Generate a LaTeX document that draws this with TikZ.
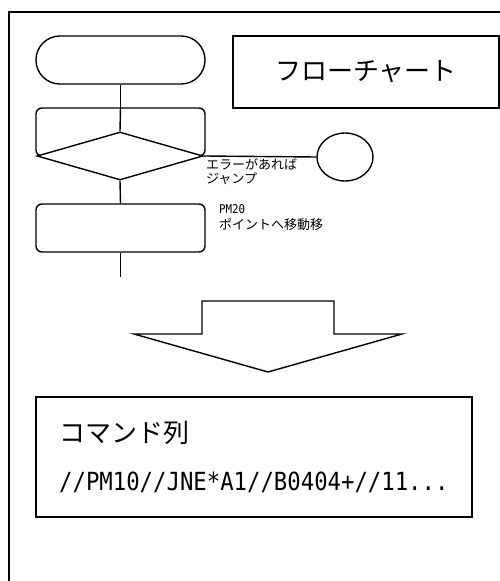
\documentclass[tikz,border=0pt]{standalone}
\usepackage{graphicx}
\usepackage{fontspec}
\setmainfont{Noto Sans CJK JP}
\newfontfamily\monofnt{DejaVu Sans Mono}
\usetikzlibrary{shapes.geometric}
\begin{document}
\begin{tikzpicture}[x=1pt,y=-1pt,
  shp/.style={draw=black,line width=1.4pt},
  termbox/.style={shp,minimum width=169pt,minimum height=48pt,rounded corners=23.9pt,inner sep=0pt},
  procbox/.style={shp,minimum width=169pt,minimum height=48pt,rounded corners=6pt,inner sep=0pt},
  decbox/.style={shp,diamond,fill=white,minimum width=166pt,minimum height=48pt,inner sep=0pt},
  conbox/.style={shp,ellipse,minimum width=56pt,minimum height=48pt,inner sep=0pt},
  framebox/.style={shp,rectangle,inner sep=0pt},
  conn/.style={line width=1.4pt},
  lbl/.style={inner sep=0pt,align=left,font=\fontsize{13}{14}\selectfont}
]
\useasboundingbox (0,0) rectangle (500,581);
\fill[white] (0,0) rectangle (500,581);
\begin{scope}
\clip (0,0) rectangle (500,581);
\draw[line width=2pt] (9,590) -- (9,12) -- (510,12);
\end{scope}

% flowchart
\node[termbox] (start) at (120.5,60) {};
\node[procbox] (proc1) at (120.5,132) {};
\draw[conn] (start.south) -- (proc1.north);
\node[decbox] (dec) at (120,156) {};
\draw[conn] (proc1.north) -- (dec.north);
\node[procbox] (proc2) at (120.5,228) {};
\draw[conn] (dec.south) -- (proc2.north);
\coordinate (tail) at (120.5,277);
\draw[conn] (proc2.south) -- (tail);
\node[conbox] (jmp) at (345,157) {};
\draw[conn] (dec.east) -- (jmp.west);

\node[lbl,anchor=north west] (errlbl) at (206,158) {エラーがあれば\\ジャンプ};
\node[lbl,anchor=north west,font=\fontsize{13}{16}\selectfont] (pmlbl) at (219,204) {\scalebox{1}[1.12]{\monofnt\fontsize{10.8}{16}\selectfont PM20}\\ポイントへ移動移};

% title
\node[framebox,minimum width=266pt,minimum height=72pt] (title) at (366,72)
  {\fontsize{26}{30}\selectfont フローチャート};

% big arrow
\draw[shp,line join=miter] (202,301) -- (334,301) -- (334,334) -- (402,334) -- (268,372) -- (134,334) -- (202,334) -- cycle;

% command box
\node[framebox,minimum width=436pt,minimum height=120pt] (cmd) at (254,457) {};
\node[inner sep=0pt,anchor=west] (cmdtitle) at (59,433) {\fontsize{26}{30}\selectfont コマンド列};
\node[inner sep=0pt,anchor=west] (cmdline) at (59,482) {\scalebox{1}[1.12]{\monofnt\fontsize{22.3}{26}\selectfont //PM10//JNE*A1//B0404+//11...}};
\end{tikzpicture}
\end{document}
